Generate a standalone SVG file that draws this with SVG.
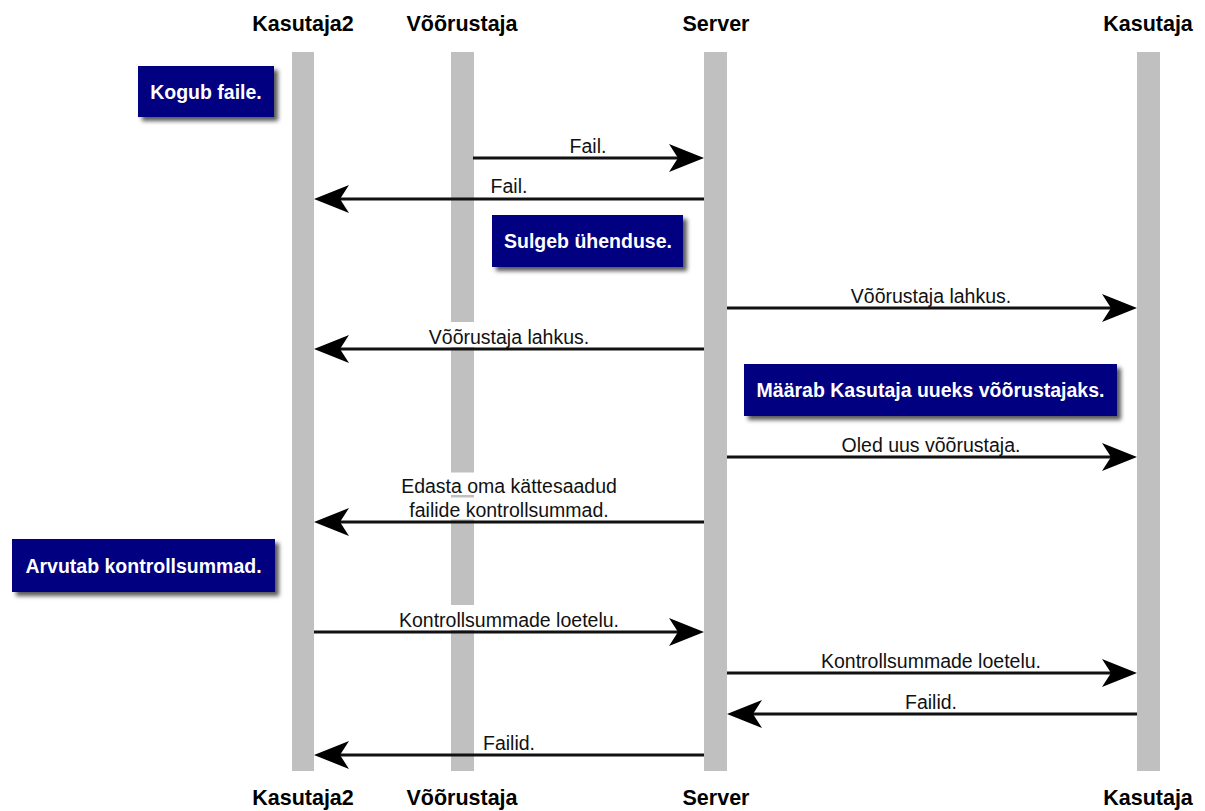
<svg xmlns="http://www.w3.org/2000/svg" width="1205" height="811" viewBox="0 0 1205 811">
  <style>
    .bar { fill: #c0c0c0; }
    .actor { font-family: "Liberation Sans", Arial, sans-serif; font-weight: bold; font-size: 21.5px; fill: #000; text-anchor: middle; }
    .msg { stroke: #111; stroke-width: 3; fill: none; marker-end: url(#head); }
    .lbl { font-family: "Liberation Sans", Arial, sans-serif; font-size: 19.5px; fill: #111; text-anchor: middle; }
    .lblbg { fill: #fff; }
    .note rect { fill: #000080; filter: url(#shadow); }
    .note text { font-family: "Liberation Sans", Arial, sans-serif; font-weight: bold; font-size: 19.5px; fill: #fff; text-anchor: middle; }
  </style>
  <defs>
    <marker id="head" markerUnits="userSpaceOnUse" markerWidth="36" markerHeight="30" viewBox="0 0 36 30" refX="25" refY="15" orient="auto">
      <path d="M35,15 L0,1 L9,15 L0,29 Z" fill="#000"/>
    </marker>
    <filter id="shadow" x="-10%" y="-20%" width="130%" height="150%">
      <feDropShadow dx="4" dy="4" stdDeviation="2.2" flood-color="#000" flood-opacity="0.65"/>
    </filter>
  </defs>

  <rect width="1205" height="811" fill="#fff"/>

  <!-- lifelines -->
  <g id="kasutaja2">
    <text class="actor" x="303" y="31">Kasutaja2</text>
    <rect class="bar" x="292" y="52" width="22" height="719"/>
    <text class="actor" x="303" y="805">Kasutaja2</text>
  </g>
  <g id="voorustaja">
    <text class="actor" x="462" y="31">Võõrustaja</text>
    <rect class="bar" x="451" y="52" width="23" height="719"/>
    <text class="actor" x="462" y="805">Võõrustaja</text>
  </g>
  <g id="server">
    <text class="actor" x="716" y="31">Server</text>
    <rect class="bar" x="704" y="52" width="23" height="719"/>
    <text class="actor" x="716" y="805">Server</text>
  </g>
  <g id="kasutaja">
    <text class="actor" x="1148" y="31">Kasutaja</text>
    <rect class="bar" x="1137" y="52" width="23" height="719"/>
    <text class="actor" x="1148" y="805">Kasutaja</text>
  </g>

  <!-- messages -->
  <g id="connectors">
    <g id="m1">
      <line class="msg" x1="473" y1="158" x2="694" y2="158"/>
      <text class="lbl" x="588" y="153">Fail.</text>
    </g>
    <g id="m2">
      <line class="msg" x1="704" y1="199" x2="324" y2="199"/>
      <text class="lbl" x="509" y="193">Fail.</text>
    </g>
    <g id="m3">
      <line class="msg" x1="727" y1="308" x2="1127" y2="308"/>
      <text class="lbl" x="931" y="302.5">Võõrustaja lahkus.</text>
    </g>
    <g id="m4">
      <rect class="lblbg" x="424" y="322" width="170" height="25"/>
      <line class="msg" x1="704" y1="349" x2="324" y2="349"/>
      <text class="lbl" x="509" y="344">Võõrustaja lahkus.</text>
    </g>
    <g id="m5">
      <line class="msg" x1="727" y1="457" x2="1127" y2="457"/>
      <text class="lbl" x="931" y="451.5">Oled uus võõrustaja.</text>
    </g>
    <g id="m6">
      <rect class="lblbg" x="396" y="472.5" width="226" height="22.5"/>
      <rect class="lblbg" x="396" y="497.5" width="226" height="22"/>
      <line class="msg" x1="704" y1="522" x2="324" y2="522"/>
      <text class="lbl" x="509" y="492.5">Edasta oma kättesaadud</text>
      <text class="lbl" x="509" y="516.5">failide kontrollsummad.</text>
    </g>
    <g id="m7">
      <rect class="lblbg" x="394" y="605" width="230" height="25"/>
      <line class="msg" x1="314" y1="632" x2="694" y2="632"/>
      <text class="lbl" x="509" y="627">Kontrollsummade loetelu.</text>
    </g>
    <g id="m8">
      <line class="msg" x1="727" y1="673" x2="1127" y2="673"/>
      <text class="lbl" x="931" y="668">Kontrollsummade loetelu.</text>
    </g>
    <g id="m9">
      <line class="msg" x1="1137" y1="714" x2="737" y2="714"/>
      <text class="lbl" x="931" y="709">Failid.</text>
    </g>
    <g id="m10">
      <line class="msg" x1="704" y1="755" x2="324" y2="755"/>
      <text class="lbl" x="509" y="750">Failid.</text>
    </g>
  </g>

  <!-- notes -->
  <g id="note-kogub" class="note">
    <rect x="138" y="66" width="136" height="51"/>
    <text x="206" y="98.5">Kogub faile.</text>
  </g>
  <g id="note-sulgeb" class="note">
    <rect x="492" y="215" width="191" height="52"/>
    <text x="588" y="248">Sulgeb ühenduse.</text>
  </g>
  <g id="note-maarab" class="note">
    <rect x="744" y="364" width="373" height="52"/>
    <text x="930.5" y="397">Määrab Kasutaja uueks võõrustajaks.</text>
  </g>
  <g id="note-arvutab" class="note">
    <rect x="12" y="539" width="263" height="53"/>
    <text x="143.5" y="573">Arvutab kontrollsummad.</text>
  </g>
</svg>
